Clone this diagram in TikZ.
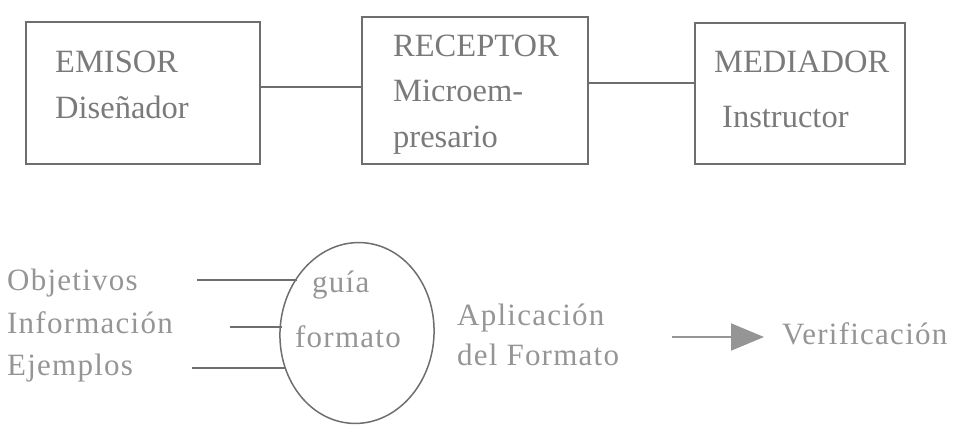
\documentclass[tikz,border=0pt]{standalone}
\usepackage{fontspec}
\setmainfont{Liberation Serif}
\newfontfamily\lowfont[LetterSpace=4]{Liberation Serif}
\usetikzlibrary{arrows.meta,shapes.geometric}
\definecolor{linegray}{HTML}{6E6E6E}
\definecolor{txtgray}{HTML}{7A7A7A}
\definecolor{lowgray}{HTML}{959595}
\tikzset{
  boxnode/.style={draw=linegray,line width=1.8pt,rectangle,inner sep=0pt},
  uptext/.style={anchor=base west,inner sep=0pt,text=txtgray,font=\fontsize{32.5}{45}\selectfont},
  lowtext/.style={anchor=base west,inner sep=0pt,text=lowgray,font=\lowfont\fontsize{31}{43}\selectfont},
  conn/.style={draw=linegray,line width=1.8pt},
}
\begin{document}
\begin{tikzpicture}[x=1pt,y=-1pt]
\useasboundingbox (0,0) rectangle (957,425);
% boxes
\node[boxnode,minimum width=234pt,minimum height=142pt] (emisor) at (143,93) {};
\node[boxnode,minimum width=226pt,minimum height=147pt] (receptor) at (475,90.5) {};
\node[boxnode,minimum width=210pt,minimum height=141pt] (mediador) at (800,93.5) {};
% box texts
\node[uptext] (t1a) at (55,73) {EMISOR};
\node[uptext] (t1b) at (55,118) {Diseñador};
\node[uptext] (t2a) at (393,57) {RECEPTOR};
\node[uptext] (t2b) at (393,102) {Microem-};
\node[uptext] (t2c) at (393,147) {presario};
\node[uptext] (t3a) at (714,73) {MEDIADOR};
\node[uptext] (t3b) at (722,127) {Instructor};
% connectors top
\draw[conn] (emisor.east |- 0,87) -- (receptor.west |- 0,87);
\draw[conn] (receptor.east |- 0,83) -- (mediador.west |- 0,83);
% lower part
\node[lowtext] (obj) at (7,290) {Objetivos};
\node[lowtext] (inf) at (7,333) {Información};
\node[lowtext] (eje) at (7,375) {Ejemplos};
\node[draw=linegray,line width=1.5pt,ellipse,minimum width=154pt,minimum height=181pt,inner sep=0pt,rotate=-4] (guia) at (357,333) {};
\node[lowtext] (g1) at (312,292) {guía};
\node[lowtext] (g2) at (295,347) {formato};
\coordinate (o1) at (197,280);
\coordinate (o1e) at (297,280);
\coordinate (o2) at (230,327);
\coordinate (o2e) at (282,327);
\coordinate (o3) at (192,368);
\coordinate (o3e) at (285,368);
\draw[conn] (o1) -- (o1e);
\draw[conn] (o2) -- (o2e);
\draw[conn] (o3) -- (o3e);
\node[lowtext] (apl) at (457,325) {Aplicación};
\node[lowtext] (fmt) at (457,365) {del Formato};
\node[lowtext] (ver) at (782,344) {Verificación};
\coordinate (a1) at (672,337);
\coordinate (a2) at (764,337);
\draw[draw=lowgray,line width=2pt,-{Triangle[length=33pt,width=27pt,fill=lowgray]}] (a1) -- (a2);
\end{tikzpicture}
\end{document}
